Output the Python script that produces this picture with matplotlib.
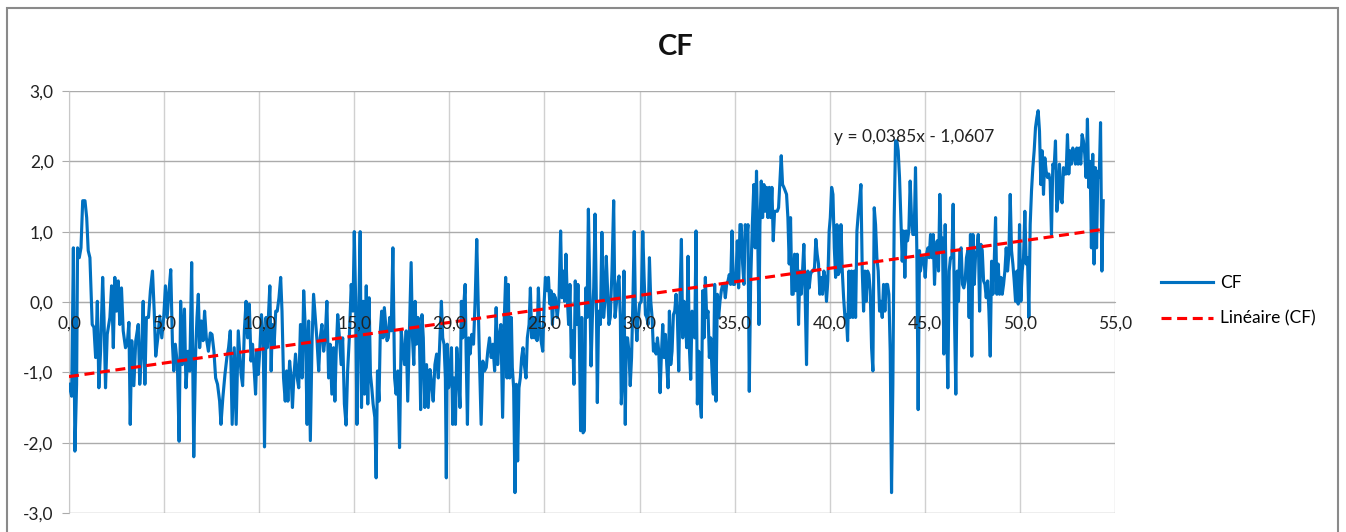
import numpy as np
import matplotlib
matplotlib.use('Agg')
import matplotlib.pyplot as plt
import matplotlib.ticker as tkr
from matplotlib.patches import Rectangle

plt.rcParams['font.family'] = ['Lato', 'DejaVu Sans']

# CF series
cf_x = [
    0.00, 0.14, 0.23, 0.31, 0.40, 0.45, 0.54, 0.63, 0.72, 0.84,
    0.93, 1.01, 1.10, 1.22, 1.31, 1.40, 1.49, 1.57, 1.66, 1.77,
    1.84, 1.92, 2.01, 2.15, 2.24, 2.33, 2.41, 2.50, 2.59, 2.67,
    2.76, 2.85, 2.97, 3.06, 3.15, 3.22, 3.30, 3.41, 3.51, 3.64,
    3.72, 3.81, 3.90, 3.99, 4.07, 4.18, 4.28, 4.39, 4.48, 4.56,
    4.67, 4.77, 4.88, 4.98, 5.07, 5.16, 5.26, 5.35, 5.44, 5.51,
    5.59, 5.70, 5.79, 5.87, 5.96, 6.07, 6.15, 6.26, 6.35, 6.45,
    6.56, 6.66, 6.73, 6.80, 6.87, 6.96, 7.05, 7.13, 7.22, 7.33,
    7.43, 7.52, 7.62, 7.71, 7.81, 7.92, 7.99, 8.09, 8.20, 8.30,
    8.39, 8.48, 8.58, 8.69, 8.79, 8.90,
    9.05, 9.13, 9.22, 9.31, 9.39, 9.48, 9.57, 9.65, 9.74, 9.81,
    9.88, 9.95, 10.03, 10.12, 10.21, 10.28, 10.36, 10.43, 10.49, 10.56,
    10.63, 10.69, 10.78, 10.87, 10.95, 11.04, 11.13, 11.20, 11.28, 11.37,
    11.44, 11.51, 11.60, 11.68, 11.75, 11.82, 11.91, 12.00, 12.08, 12.17,
    12.26, 12.34, 12.43, 12.52, 12.60, 12.69, 12.78, 12.86, 12.95, 13.04,
    13.13, 13.21, 13.30, 13.39, 13.47, 13.56, 13.65, 13.73, 13.82, 13.91,
    13.98, 14.05, 14.13, 14.22, 14.31, 14.39, 14.48, 14.57, 14.65, 14.74,
    14.84, 14.93, 15.00, 15.07, 15.14, 15.23, 15.31, 15.38, 15.47, 15.54,
    15.63, 15.71, 15.78, 15.85, 15.92, 15.99, 16.08, 16.15, 16.22, 16.30,
    16.37, 16.44, 16.51, 16.58, 16.65, 16.72, 16.79, 16.86, 16.94, 17.03,
    17.12, 17.20, 17.29, 17.38, 17.47, 17.55, 17.64, 17.73, 17.81,
    17.99, 18.06, 18.13, 18.20, 18.27, 18.35, 18.42, 18.49, 18.56, 18.63,
    18.71, 18.80, 18.89, 18.98, 19.07, 19.15, 19.24, 19.33, 19.42, 19.51,
    19.58, 19.65, 19.72, 19.79, 19.84, 19.89, 19.96, 20.04, 20.11, 20.18,
    20.25, 20.32, 20.39, 20.48, 20.56, 20.63, 20.70, 20.77, 20.83, 20.88,
    20.95, 21.02, 21.09, 21.18, 21.27, 21.36, 21.44, 21.51, 21.58, 21.67,
    21.76, 21.85, 21.94, 22.02, 22.11, 22.20, 22.29, 22.38, 22.46, 22.54,
    22.61, 22.71, 22.80, 22.89, 22.96, 23.03, 23.10, 23.17, 23.26, 23.31,
    23.38, 23.45, 23.52, 23.59, 23.66, 23.73, 23.80, 23.87, 23.94, 24.03,
    24.10, 24.19, 24.26, 24.33, 24.40, 24.47, 24.54, 24.61, 24.68, 24.75,
    24.82, 24.91, 24.98, 25.05, 25.14, 25.21, 25.28, 25.35, 25.42, 25.49,
    25.58, 25.67, 25.76, 25.85, 25.92, 25.99, 26.06, 26.13, 26.20, 26.27,
    26.34, 26.41, 26.48, 26.55, 26.62, 26.69, 26.76, 26.83, 26.90,
    26.96, 27.03, 27.10, 27.17, 27.24, 27.31, 27.38, 27.45, 27.52, 27.59,
    27.66, 27.73, 27.78, 27.85, 27.94, 28.02, 28.11, 28.18, 28.25, 28.32,
    28.39, 28.46, 28.55, 28.64, 28.71, 28.78, 28.85, 28.92, 28.99, 29.04,
    29.11, 29.18, 29.25, 29.30, 29.37, 29.44, 29.51, 29.58, 29.65, 29.72,
    29.79, 29.86, 29.93, 30.00, 30.09, 30.17, 30.24, 30.31, 30.38, 30.45,
    30.52, 30.59, 30.66, 30.73, 30.80, 30.87, 30.94, 31.01, 31.08, 31.15,
    31.22, 31.29, 31.36, 31.43, 31.50, 31.57, 31.64, 31.71, 31.78, 31.85,
    31.92, 31.99, 32.06, 32.13, 32.20, 32.27, 32.34, 32.41, 32.48, 32.55,
    32.62, 32.69, 32.76, 32.83, 32.90, 32.97, 33.04, 33.11, 33.18, 33.25,
    33.32, 33.39, 33.46, 33.53, 33.60, 33.67, 33.74, 33.81, 33.88, 33.95,
    34.02, 34.09, 34.16, 34.23, 34.30, 34.37, 34.44, 34.51, 34.58, 34.65,
    34.72, 34.79, 34.86, 34.93, 35.00, 35.07, 35.14, 35.21, 35.28, 35.35,
    35.42, 35.49, 35.56, 35.63, 35.70, 35.77,
    35.84, 35.93, 36.01, 36.08, 36.15, 36.22, 36.28, 36.33, 36.40, 36.47,
    36.54, 36.61, 36.68, 36.75, 36.82, 36.89, 36.96, 37.03, 37.10, 37.17,
    37.24, 37.31, 37.38, 37.45, 37.52, 37.59, 37.66, 37.73, 37.80, 37.87,
    37.94, 38.01, 38.08, 38.15, 38.22, 38.29, 38.36, 38.43, 38.50, 38.57,
    38.64, 38.71, 38.78, 38.85, 38.92, 38.99, 39.06, 39.13, 39.20, 39.27,
    39.34, 39.41, 39.48, 39.55, 39.62, 39.69, 39.76, 39.83, 39.90, 39.97,
    40.03, 40.10, 40.17, 40.24, 40.31, 40.38, 40.45, 40.52, 40.59, 40.66,
    40.73, 40.80, 40.87, 40.94, 41.01, 41.08, 41.15, 41.22, 41.29, 41.36,
    41.43, 41.50, 41.57, 41.64, 41.71, 41.78, 41.85, 41.92, 41.99, 42.06,
    42.13, 42.20, 42.27, 42.34, 42.41, 42.48, 42.55, 42.62, 42.69, 42.76,
    42.83, 42.90, 42.97, 43.04, 43.11, 43.18, 43.25, 43.32, 43.39, 43.46,
    43.53, 43.60, 43.67, 43.74, 43.81, 43.88, 43.95, 44.02, 44.09, 44.16,
    44.23, 44.30, 44.37, 44.44, 44.51, 44.58, 44.65, 44.72,
    44.77, 44.86, 44.95, 45.02, 45.09, 45.16, 45.23, 45.30, 45.37, 45.44,
    45.51, 45.58, 45.65, 45.72, 45.79, 45.86, 45.93, 46.00, 46.07, 46.14,
    46.21, 46.28, 46.35, 46.42, 46.49, 46.56, 46.63, 46.70, 46.77, 46.84,
    46.91, 46.98, 47.05, 47.12, 47.19, 47.26, 47.33, 47.40, 47.47, 47.53,
    47.60, 47.67, 47.74, 47.81, 47.88, 47.95, 48.02, 48.09, 48.16, 48.23,
    48.30, 48.37, 48.44, 48.51, 48.58, 48.65, 48.72, 48.79, 48.86, 48.93,
    49.00, 49.07, 49.14, 49.21, 49.28, 49.35, 49.42, 49.49, 49.56, 49.63,
    49.70, 49.77, 49.84, 49.91, 49.98, 50.05, 50.12, 50.19, 50.26, 50.33,
    50.40, 50.47, 50.54, 50.61, 50.68, 50.75, 50.82, 50.89, 50.96, 51.03,
    51.10, 51.17, 51.24, 51.31, 51.38, 51.45, 51.52, 51.59, 51.66, 51.73,
    51.80, 51.87, 51.94, 52.01, 52.08, 52.15, 52.22, 52.29, 52.36, 52.43,
    52.50, 52.57, 52.64, 52.71, 52.78, 52.85, 52.92, 52.99, 53.06, 53.13,
    53.20, 53.27, 53.34, 53.41, 53.48, 53.55, 53.62, 53.69, 53.76, 53.83,
    53.90, 53.97, 54.03, 54.10, 54.17, 54.24, 54.31, 54.38,
]
cf_y = [
    -1.17, -1.34, 0.77, -2.12, -1.17, 0.77, 0.63, 0.77, 1.44, 1.44,
    1.20, 0.73, 0.63, -0.32, -0.36, -0.79, 0.01, -1.22, -0.70, 0.35,
    -0.22, -1.22, -0.46, -0.22, 0.23, -0.65, 0.35, -0.13, 0.30, -0.32,
    0.20, -0.41, -0.65, -0.60, -0.29, -1.74, -0.55, -1.19, -0.55, -0.32,
    -1.17, -0.74, 0.01, -1.17, -0.22, -0.22, 0.16, 0.44, -0.13, -0.77,
    -0.51, -0.20, -0.51, -0.22, 0.23, -0.22, 0.16, 0.46, -0.60, -0.98,
    -0.60, -0.89, -1.98, 0.01, -0.89, -0.10, -1.22, -0.70, -0.98, 0.56,
    -2.20, -0.70, -0.22, 0.11, -0.65, -0.27, -0.55, -0.13, -0.51, -0.70,
    -0.44, -0.46, -0.70, -1.08, -1.17, -1.41, -1.74, -1.36, -1.03, -0.79,
    -0.65, -0.41, -1.74, -0.65, -1.74, -0.41,
    -1.03, -1.19, -0.41, 0.01, -0.51, -0.03, -0.84, -0.60, -0.98, -1.31,
    -0.70, -1.03, -0.70, -0.18, -0.51, -2.06, -0.22, -0.65, -0.18, 0.23,
    -0.98, -0.32, -0.65, -0.13, -0.13, 0.06, 0.35, -0.13, -1.08, -1.41,
    -0.98, -1.41, -0.84, -1.08, -1.50, -1.08, -0.74, -1.08, -1.22, -0.32,
    -1.08, 0.16, -0.41, -1.74, -0.27, -1.97, -0.55, 0.11, -0.22, -0.55,
    -0.98, -0.51, -0.32, -0.70, -0.51, 0.01, -1.08, -0.60, -1.31, -0.65,
    -1.41, -0.70, -0.18, -0.51, -0.89, -0.51, -1.45, -1.75, -0.98, -0.51,
    0.25, -0.13, 1.00, 0.06, -1.74, -0.22, 1.00, -1.50, 0.01, -1.31,
    0.23, -1.45, 0.06, -1.03, -1.22, -1.45, -1.64, -2.50, -0.98, -1.41,
    -0.41, -0.13, -0.51, -0.08, -0.32, -0.55, -0.51, -0.22, -0.41, 0.77,
    -1.08, -1.31, -0.98, -2.07, -0.41, -0.65, -0.89, -0.41, -1.41,
    0.56, -0.51, -0.89, 0.01, -0.60, -0.22, -0.41, -1.53, -0.18, -0.51,
    -1.50, -0.89, -1.50, -0.96, -1.17, -1.41, -0.89, -0.74, -1.08, -0.46,
    0.01, -0.51, -0.60, -1.08, -2.50, -0.60, -1.22, -1.03, -0.65, -1.74,
    -1.08, -1.74, -0.65, -1.03, -1.50, 0.01, -0.51, 0.01, 0.25, -0.70,
    -1.74, -0.51, -0.74, -0.46, -0.60, 0.06, 0.89, 0.06, -0.79, -1.74,
    -0.84, -0.98, -0.93, -0.70, -0.51, -0.79, -0.60, -0.98, -0.08, -0.89,
    -0.51, -0.32, -1.64, -0.22, 0.35, -1.08, 0.25, -1.08, -0.22, -0.93,
    -1.22, -2.71, -1.17, -2.26, -1.22, -1.08, -0.79, -0.65, -0.89, -1.08,
    -0.51, -0.32, 0.20, -0.51, -0.22, -0.51, -0.22, -0.55, 0.20, -0.32,
    -0.55, -0.70, -0.03, 0.35, 0.16, 0.35, -0.03, 0.16, -0.32, 0.11,
    0.06, -0.22, 0.01, 1.01, 0.06, 0.44, 0.01, 0.68, 0.06, -0.32,
    0.25, -0.79, -0.41, -1.17, 0.30, -0.32, 0.25, -0.41, -1.83,
    -0.22, -1.86, -1.83, 0.20, -0.22, 1.32, 0.25, -0.91, -0.22, 0.20,
    1.25, 0.01, -1.43, -0.13, -0.32, 0.99, -0.22, 0.01, 0.65, 0.16,
    -0.32, -0.22, 0.44, 1.44, -0.22, -0.03, 0.25, 0.37, -0.22, -1.45,
    -1.03, 0.44, -1.74, -0.51, -0.51, -0.70, -1.19, -0.79, 0.01, 1.00,
    -0.22, -0.55, -0.22, -0.03, 0.01, 1.00, 0.35, -0.18, -0.22, -0.32,
    0.63, 0.01, -0.22, -0.70, -0.60, -0.74, -0.51, -0.70, -1.29, -0.74,
    -0.32, -0.79, -0.46, -0.89, -1.22, -0.13, -0.89, -0.70, -0.18, -0.13,
    0.11, -0.22, -0.98, 0.11, 0.89, -0.51, 0.01, -0.22, -0.65, 0.65,
    -0.65, -1.10, -0.13, -0.32, -0.51, 1.01, -1.45, -0.70, -1.36, -1.64,
    0.16, -0.51, 0.35, -0.22, -0.13, -0.79, -0.51, -0.98, -1.31, 0.25,
    -1.41, 0.11, -0.22, 0.01, 0.16, 0.25, 0.25, 0.06, 0.25, 0.30,
    0.39, 0.25, 1.01, 0.25, 0.25, 0.35, 0.87, 0.20, 1.10, 1.10,
    0.54, 0.25, 1.10, 0.91, 1.10, -1.27,
    0.25, 1.10, 1.67, 0.77, 1.86, 0.82, -0.32, 1.10, 1.72, 1.20,
    1.67, 1.29, 1.63, 1.20, 1.63, 1.20, 1.63, 0.87, 1.29, 1.29,
    1.29, 1.34, 1.72, 2.08, 1.67, 1.63, 1.58, 1.53, 1.20, 0.54,
    1.20, 0.11, 0.11, 0.68, 0.16, 0.68, -0.32, 0.44, 0.11, 0.44,
    0.82, 0.06, -0.89, 0.44, 0.20, 0.39, 0.44, 0.44, 0.49, 0.89,
    0.68, 0.54, 0.11, 0.35, 0.11, 0.44, 0.35, 0.01, 0.30, 1.01,
    1.20, 1.63, 1.53, 0.77, 0.35, 1.10, 0.39, 0.44, 1.10, 0.44,
    0.06, -0.22, -0.18, -0.55, 0.44, -0.22, 0.44, -0.22, 0.44, -0.22,
    1.01, 1.25, 1.44, 1.67, 0.44, -0.13, 0.44, 0.01, 0.44, 0.39,
    0.16, -0.65, -0.98, 1.34, 1.10, 0.63, 0.44, -0.13, 0.01, -0.22,
    0.25, -0.13, 0.25, 0.25, 0.11, -0.70, -2.71, -1.17, 1.20, 2.29,
    2.29, 2.15, 1.77, 1.20, 0.58, 1.01, 0.35, 1.01, 0.87, 1.01,
    1.72, 1.20, 0.96, 0.96, 1.91, 0.73, -1.53, 0.73,
    0.44, 0.63, 0.63, 0.35, 0.68, 0.77, 0.63, 0.96, 0.63, 0.96,
    0.25, 0.73, 0.87, 0.44, 1.53, 0.73, 0.91, -0.74, 1.10, -0.13,
    -1.22, 0.44, 0.63, 0.63, 1.39, -0.22, -1.31, 0.44, 0.01, 0.73,
    0.77, 0.25, 0.20, 0.30, 0.63, 0.73, -0.22, 0.96, -0.77, 0.96,
    0.25, 0.68, 0.73, 0.96, -0.13, 0.82, 0.73, 0.30, 0.25, 0.06,
    0.30, -0.13, -0.77, 0.58, 0.11, 0.58, 1.20, 0.11, 0.54, 0.11,
    0.35, 0.11, 0.25, 0.44, 0.77, 0.44, 0.68, 1.53, 0.73, 0.54,
    0.30, 0.01, 0.44, -0.03, 1.10, 0.01, 0.44, 0.63, 1.29, 0.54,
    0.63, -0.22, 1.10, 1.58, 1.91, 2.15, 2.48, 2.62, 2.72, 2.43,
    1.67, 2.15, 1.53, 2.05, 1.86, 1.77, 1.82, 1.72, 0.96, 1.96,
    1.91, 2.29, 1.29, 1.48, 1.96, 1.48, 1.41, 1.91, 1.82, 1.82,
    2.38, 1.82, 2.15, 1.96, 2.19, 2.10, 1.96, 2.19, 1.96, 2.19,
    1.96, 2.38, 2.29, 2.10, 1.77, 2.60, 1.63, 2.00, 0.77, 2.10,
    0.54, 1.91, 0.77, 1.86, 1.77, 2.55, 0.44, 1.44,
]

# linear trend shown on the chart
slope = 0.0385
intercept = -1.0607

x_ticks = np.arange(0, 55.1, 5)
y_ticks = np.arange(-3, 3.1, 1)

W, H = 1346, 532
fig = plt.figure(figsize=(W / 100, H / 100), dpi=100)
ax = fig.add_axes([69 / W, 1 - 513 / H, (1115 - 69) / W, (513 - 91) / H])

# gridlines drawn by hand so the axis labels can sit over the series
for yv in y_ticks:
    ax.axhline(yv, color='#ababab', lw=1, zorder=0.5)
for xv in x_ticks:
    ax.axvline(xv, color='#d0d0d0', lw=1, zorder=0.4)

ln, = ax.plot(cf_x, cf_y, color='#0070C0', lw=2.25, label='CF', zorder=2.1)
tx = np.array([0, cf_x[-1]])
ln2, = ax.plot(tx, slope * tx + intercept, color='#FF0000', lw=2.25,
               ls=(0, (3.2, 1.8)), label='Linéaire (CF)', zorder=2.2)

ax.set_xlim(0, 55)
ax.set_ylim(-3, 3)
ax.set_xticks(x_ticks)
ax.set_yticks(y_ticks)
fmt = tkr.FuncFormatter(lambda v, pos: f"{v + 0:.1f}".replace('.', ','))
ax.xaxis.set_major_formatter(fmt)
ax.yaxis.set_major_formatter(fmt)
ax.set_axisbelow(False)

for s in ['top', 'right']:
    ax.spines[s].set_visible(False)
ax.spines['left'].set_color('#c8c8c8')
ax.spines['left'].set_zorder(0.6)
ax.spines['bottom'].set_position(('data', 0))
ax.spines['bottom'].set_color('#ababab')
ax.spines['bottom'].set_zorder(0.6)

ax.tick_params(axis='y', length=5, color='#ababab', pad=6, labelsize=12.5, labelcolor='#222222')
ax.tick_params(axis='x', length=0, pad=10, labelsize=12.5, labelcolor='#222222')

ax.text(40.2, 2.34, f"y = {slope:.4f}x - {abs(intercept):.4f}".replace('.', ','),
        fontsize=12.5, va='center', ha='left', color='#222222', zorder=5)

fig.text(0.502, 1 - 47 / H, 'CF', ha='center', va='center', fontsize=21,
         fontweight='bold', color='#111111')

fig.legend(handles=[ln, ln2], loc='center left', bbox_to_anchor=(1145 / W, 1 - 301 / H),
           frameon=False, fontsize=12.5, handlelength=3.0, labelspacing=1.1,
           handletextpad=0.4)

fig.patches.append(Rectangle((7 / W, -0.05), (1338 - 7) / W, 1 - 8 / H + 0.05,
                             transform=fig.transFigure, fill=False,
                             ec='#8a8a8a', lw=1.5))

fig.savefig('out.png', dpi=100)
